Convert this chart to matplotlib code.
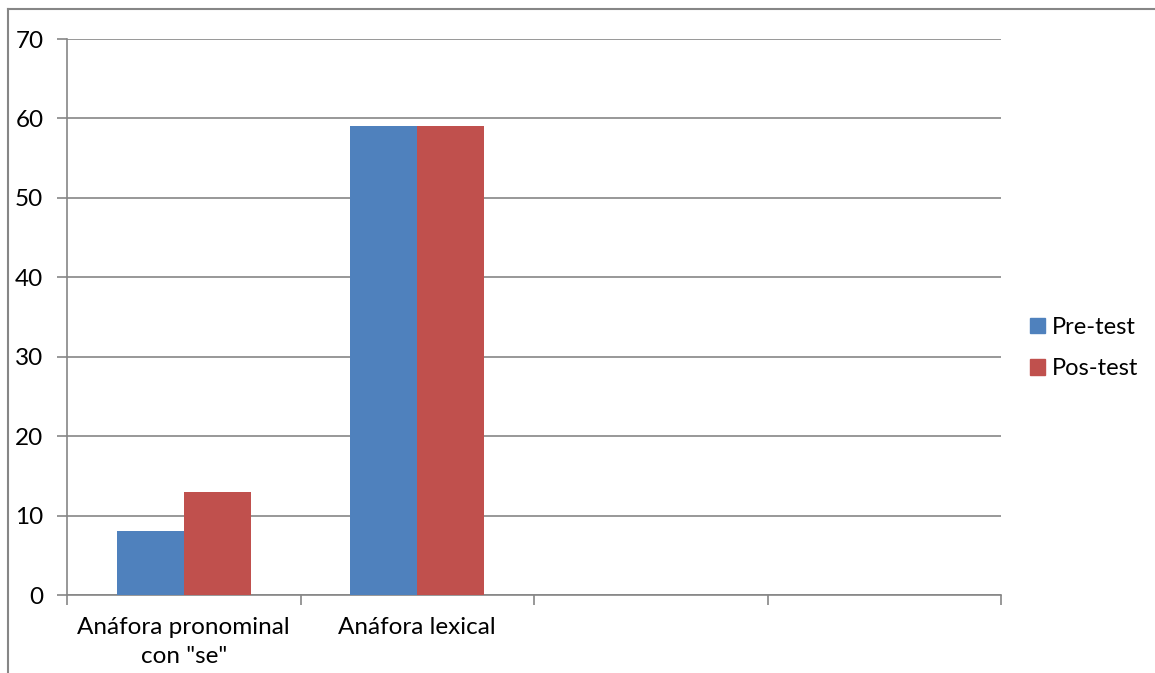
import numpy as np
import matplotlib.pyplot as plt
from matplotlib.lines import Line2D
from matplotlib.patches import Patch

plt.rcParams['font.family'] = ['Lato', 'DejaVu Sans']

# datos
categorias = ['Anáfora pronominal\ncon "se"', 'Anáfora lexical', '', '']
pre_test = [8, 59]
pos_test = [13, 59]

azul = '#4F81BD'
rojo = '#C0504D'
gris = '#868686'

fig = plt.figure(figsize=[11.55, 6.73], dpi=100)
ax = fig.add_axes([67/1155, 1-595/673, (1001-67)/1155, (595-39)/673])

x = np.arange(len(categorias))
ancho = 0.287
ax.bar(x[:len(pre_test)] - ancho/2, pre_test, ancho, color=azul, zorder=3)
ax.bar(x[:len(pos_test)] + ancho/2, pos_test, ancho, color=rojo, zorder=3)

ax.set_xlim(-0.5, len(categorias) - 0.5)
ax.set_ylim(0, 70)
ax.set_yticks(range(0, 71, 10))
ax.yaxis.grid(True, color=gris, linewidth=1.2, zorder=0)
ax.set_axisbelow(True)

# etiquetas centradas, marcas entre categorias
ax.set_xticks(x)
ax.set_xticklabels(categorias, fontsize=17.5, linespacing=1.45)
ax.tick_params(axis='x', which='major', length=0, pad=16)
ax.set_xticks(np.arange(len(categorias) + 1) - 0.5, minor=True)
ax.tick_params(axis='x', which='minor', length=7, width=1.2, color=gris, direction='out')
ax.tick_params(axis='y', length=7, width=1.2, color=gris, labelsize=17.5, pad=10)

for lado in ['top', 'right']:
    ax.spines[lado].set_visible(False)
for lado in ['left', 'bottom']:
    ax.spines[lado].set_color(gris)
    ax.spines[lado].set_linewidth(1.2)

# leyenda
ax.legend(handles=[Patch(color=azul, label='Pre-test'), Patch(color=rojo, label='Pos-test')],
          loc='center left', bbox_to_anchor=(1030/1155, 1-348/673), bbox_transform=fig.transFigure,
          frameon=False, borderpad=0, borderaxespad=0, fontsize=17,
          handlelength=0.64, handleheight=0.64, handletextpad=0.3, labelspacing=0.85)

# borde del grafico
fig.add_artist(Line2D([8/1155, 8/1155], [0, 1-9/673], color=gris, linewidth=1.5, transform=fig.transFigure))
fig.add_artist(Line2D([8/1155, 1], [1-9/673, 1-9/673], color=gris, linewidth=1.5, transform=fig.transFigure))

fig.savefig('out.png', dpi=100)
